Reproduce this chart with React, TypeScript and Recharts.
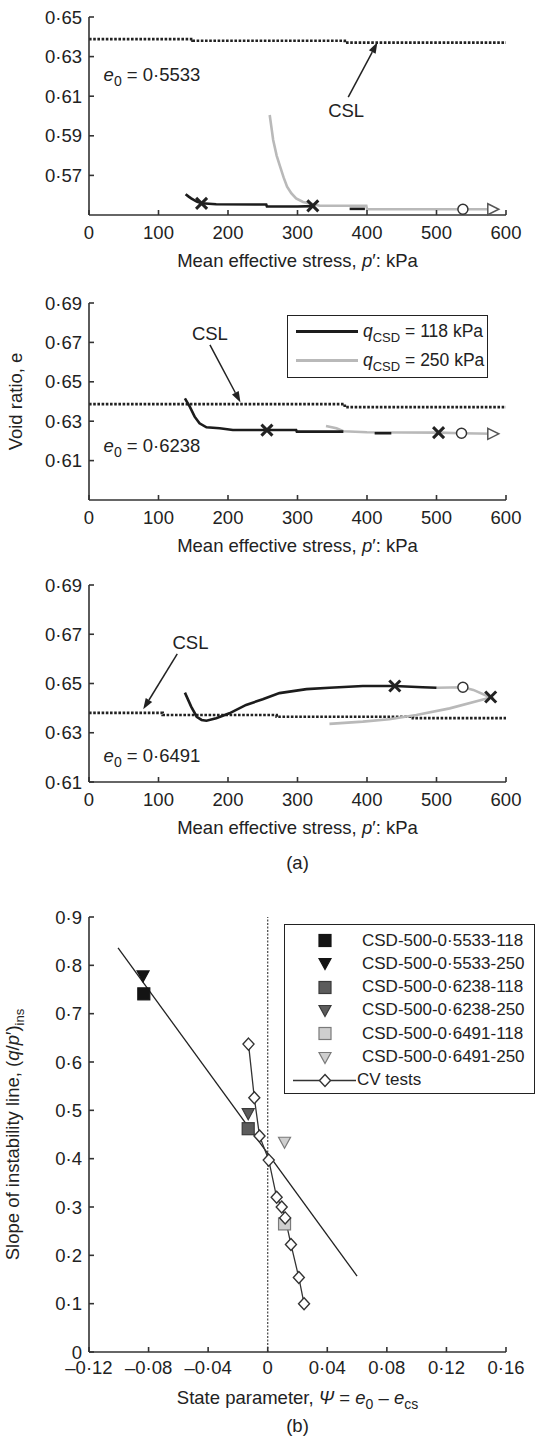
import React from "react";
import {
  ComposedChart,
  Line,
  Scatter,
  XAxis,
  YAxis,
  ReferenceLine,
  ReferenceDot,
} from "recharts";

const FONT = '"Liberation Sans", Arial, Helvetica, sans-serif';
const INK = "#222";
const DARK = "#1c1c1c";
const LIGHT = "#b9b9b9";

type Pt = { p: number; e: number };
const pts = (a: number[][]): Pt[] => a.map(([p, e]) => ({ p, e }));

// ---------- (a) void ratio vs p' ----------
const pTicks = [0, 100, 200, 300, 400, 500, 600];
const eTicksA1 = [0.57, 0.59, 0.61, 0.63, 0.65];
const eTicksA2 = [0.61, 0.63, 0.65, 0.67, 0.69];
const eTicksA3 = [0.61, 0.63, 0.65, 0.67, 0.69];

// e0 = 0.5533   [p', e]
const csl1 = pts([[0, 0.6388], [149, 0.6388], [149, 0.638], [368, 0.638], [368, 0.6371], [600, 0.6371]]);
const black1 = pts([[139, 0.5605], [143, 0.5594], [147, 0.5584], [155, 0.5568], [162, 0.5559], [183, 0.5554], [255, 0.5553], [256, 0.5543], [300, 0.5543], [322, 0.5545]]);
const blackStub1 = pts([[375, 0.5531], [397, 0.5531]]);
const gray1 = pts([[260, 0.6005], [263, 0.593], [265, 0.5879], [270, 0.58], [275, 0.5744], [280, 0.569], [285, 0.5643], [291, 0.561], [298, 0.5584], [308, 0.5566], [317, 0.5559], [332, 0.5547], [399, 0.5547], [400, 0.5529], [581, 0.5529]]);
const cross1 = pts([[162, 0.5559], [322, 0.5546]]);
const circle1 = pts([[538, 0.5529]]);
const tri1 = pts([[581, 0.5529]]);

// e0 = 0.6238
const csl2 = pts([[0, 0.6387], [368, 0.6387], [368, 0.6371], [600, 0.6371]]);
const black2 = pts([[138, 0.6416], [145, 0.6374], [152, 0.6323], [159, 0.6289], [169, 0.6269], [188, 0.6264], [207, 0.6255], [256, 0.6255], [298, 0.6255], [299, 0.6247], [366, 0.6247]]);
const blackStub2 = pts([[411, 0.6239], [435, 0.6239]]);
const gray2 = pts([[341, 0.6276], [356, 0.6264], [366, 0.6249], [400, 0.6244], [503, 0.6242], [536, 0.6239], [581, 0.6236]]);
const cross2 = pts([[256, 0.6255], [503, 0.6242]]);
const circle2 = pts([[536, 0.6239]]);
const tri2 = pts([[581, 0.6236]]);

// e0 = 0.6491
const csl3 = pts([[0, 0.6381], [106, 0.6381], [106, 0.6372], [270, 0.6372], [270, 0.6365], [466, 0.6365], [466, 0.6359], [600, 0.6359]]);
const black3 = pts([[138, 0.6463], [147, 0.6406], [155, 0.6365], [162, 0.6352], [169, 0.6349], [183, 0.6359], [202, 0.6379], [226, 0.6413], [250, 0.6436], [274, 0.6461], [313, 0.6477], [346, 0.6483], [394, 0.649], [440, 0.649], [480, 0.6485], [500, 0.6483]]);
const gray3 = pts([[346, 0.6336], [394, 0.6345], [432, 0.6355], [471, 0.6372], [519, 0.6399], [578, 0.6443], [553, 0.6474], [538, 0.6485], [500, 0.6483]]);
const cross3 = pts([[440, 0.649], [578, 0.6445]]);
const circle3 = pts([[538, 0.6485]]);
const tri3: Pt[] = [];

// ---------- (b) slope of instability line vs state parameter ----------
const psiTicks = [-0.12, -0.08, -0.04, 0, 0.04, 0.08, 0.12, 0.16];
const slopeTicks = [0, 0.1, 0.2, 0.3, 0.4, 0.5, 0.6, 0.7, 0.8, 0.9];
const fitPsi = [-0.1005, 0.06];
const fitSlope = [0.836, 0.157];
const cvPsi = [-0.0129, -0.009, -0.0055, 0.0007, 0.006, 0.0094, 0.0117, 0.0156, 0.0209, 0.0244];
const cvSlope = [0.637, 0.526, 0.447, 0.397, 0.32, 0.3, 0.2775, 0.2225, 0.154, 0.1];
const testNames = [
  "CSD-500-0·5533-118",
  "CSD-500-0·5533-250",
  "CSD-500-0·6238-118",
  "CSD-500-0·6238-250",
  "CSD-500-0·6491-118",
  "CSD-500-0·6491-250",
];
const testPsi = [-0.0832, -0.0837, -0.0131, -0.0131, 0.0113, 0.0113];
const testSlope = [0.741, 0.778, 0.462, 0.493, 0.265, 0.434];

const testStyle = [
  { kind: "sq", fill: "#141414", stroke: "#141414" },
  { kind: "tri", fill: "#141414", stroke: "#141414" },
  { kind: "sq", fill: "#5c5c5c", stroke: "#3a3a3a" },
  { kind: "tri", fill: "#5c5c5c", stroke: "#3a3a3a" },
  { kind: "sq", fill: "#cfcfcf", stroke: "#7a7a7a" },
  { kind: "tri", fill: "#cfcfcf", stroke: "#7a7a7a" },
];

const fitData = fitPsi.map((x, i) => ({ x, y: fitSlope[i] }));
const cvData = cvPsi.map((x, i) => ({ x, y: cvSlope[i] }));

// ---------- formatting ----------
const fmtE = (v: number) => v.toFixed(2).replace(".", "·");
const fmtPsi = (v: number) => {
  if (Math.abs(v) < 1e-9) return "0";
  const s = Math.abs(v).toFixed(2).replace(".", "·");
  return v < 0 ? "–" + s : s;
};
const fmtSlope = (v: number) => (Math.abs(v) < 1e-9 ? "0" : v.toFixed(1).replace(".", "·"));

const tickFont = { fontSize: 18.5, fill: INK, fontFamily: FONT };
const axisLine = { stroke: "#333", strokeWidth: 1.6 };

// ---------- marker shapes ----------
const Cross = (pr: any) => {
  const { cx, cy } = pr;
  const d = 5.5;
  return (
    <g stroke={INK} strokeWidth={3}>
      <line x1={cx - d} y1={cy - d} x2={cx + d} y2={cy + d} />
      <line x1={cx - d} y1={cy + d} x2={cx + d} y2={cy - d} />
    </g>
  );
};
const OpenCircle = (pr: any) => (
  <circle cx={pr.cx} cy={pr.cy} r={5} fill="#fff" stroke="#333" strokeWidth={1.5} />
);
const OpenTriRight = (pr: any) => {
  const { cx, cy } = pr;
  return (
    <polygon
      points={`${cx - 5},${cy - 5.5} ${cx + 6},${cy} ${cx - 5},${cy + 5.5}`}
      fill="#fff"
      stroke="#555"
      strokeWidth={1.5}
    />
  );
};
const Diamond = (pr: any) => {
  const { cx, cy } = pr;
  return (
    <polygon
      points={`${cx},${cy - 6} ${cx + 5.5},${cy} ${cx},${cy + 6} ${cx - 5.5},${cy}`}
      fill="#fff"
      stroke="#333"
      strokeWidth={1.4}
    />
  );
};
const testShape = (i: number) => (pr: any) => {
  const { cx, cy } = pr;
  const st = testStyle[i];
  if (st.kind === "sq") {
    return <rect x={cx - 6} y={cy - 6} width={12} height={12} fill={st.fill} stroke={st.stroke} strokeWidth={1.2} />;
  }
  return (
    <polygon
      points={`${cx - 6},${cy - 5} ${cx + 6},${cy - 5} ${cx},${cy + 6}`}
      fill={st.fill}
      stroke={st.stroke}
      strokeWidth={1.2}
    />
  );
};

const Arrow = (pr: any) => {
  const { x1, y1, x2, y2 } = pr;
  const a = Math.atan2(y2 - y1, x2 - x1);
  const len = 11;
  const half = 3.8;
  const bx = x2 - len * Math.cos(a);
  const by = y2 - len * Math.sin(a);
  const nx = -Math.sin(a) * half;
  const ny = Math.cos(a) * half;
  return (
    <g>
      <line x1={x1} y1={y1} x2={bx} y2={by} stroke={INK} strokeWidth={1.5} />
      <polygon points={`${x2},${y2} ${bx + nx},${by + ny} ${bx - nx},${by - ny}`} fill={INK} />
    </g>
  );
};

const e0Text = (value: string) => (pr: any) => (
  <text x={pr.cx} y={pr.cy} fontSize={18.5} fill={INK} fontFamily={FONT}>
    <tspan fontStyle="italic">e</tspan>
    <tspan dy={5} fontSize={14}>0</tspan>
    <tspan dy={-5}>{" = " + value}</tspan>
  </text>
);
const cslText = (pr: any) => (
  <text x={pr.cx} y={pr.cy} fontSize={18.5} fill={INK} fontFamily={FONT} textAnchor="middle">
    CSL
  </text>
);

const pTitle = (caption?: string) => (pr: any) => {
  const vb = pr.viewBox || { x: 89, y: 0, width: 417, height: 70 };
  const cx = vb.x + vb.width / 2;
  return (
    <g fontFamily={FONT} fontSize={18.5} fill={INK}>
      <text x={cx} y={vb.y + 52} textAnchor="middle">
        Mean effective stress, <tspan fontStyle="italic">p</tspan>′: kPa
      </text>
      {caption ? (
        <text x={cx} y={vb.y + 87} textAnchor="middle">
          {caption}
        </text>
      ) : null}
    </g>
  );
};

const voidTitle = (pr: any) => {
  const vb = pr.viewBox || { x: 9, y: 18, width: 80, height: 197 };
  const x = vb.x + 13;
  const y = vb.y + vb.height / 2;
  return (
    <text x={x} y={y} transform={`rotate(-90 ${x} ${y})`} textAnchor="middle" fontFamily={FONT} fontSize={18.5} fill={INK}>
      Void ratio, e
    </text>
  );
};

const psiTitle = (pr: any) => {
  const vb = pr.viewBox || { x: 89, y: 475, width: 417, height: 89 };
  const cx = vb.x + vb.width / 2;
  return (
    <g fontFamily={FONT} fontSize={18.5} fill={INK}>
      <text x={cx} y={vb.y + 52} textAnchor="middle">
        State parameter,  <tspan fontStyle="italic">Ψ</tspan> = <tspan fontStyle="italic">e</tspan>
        <tspan dy={5} fontSize={14}>0</tspan>
        <tspan dy={-5}> – </tspan>
        <tspan fontStyle="italic">e</tspan>
        <tspan dy={5} fontSize={14}>cs</tspan>
      </text>
      <text x={cx} y={vb.y + 80} textAnchor="middle">
        (b)
      </text>
    </g>
  );
};

const slopeTitle = (pr: any) => {
  const vb = pr.viewBox || { x: 9, y: 40, width: 80, height: 435 };
  const x = vb.x + 10;
  const y = vb.y + vb.height / 2;
  return (
    <text x={x} y={y} transform={`rotate(-90 ${x} ${y})`} textAnchor="middle" fontFamily={FONT} fontSize={18.5} fill={INK}>
      Slope of instability line, (<tspan fontStyle="italic">q</tspan>/<tspan fontStyle="italic">p</tspan>′)
      <tspan dy={5} fontSize={13}>ins</tspan>
    </text>
  );
};

// ---------- panel (a) ----------
type PanelProps = {
  top: number;
  height: number;
  marginTop: number;
  axisHeight: number;
  eDomain: [number, number];
  eTicks: number[];
  csl: Pt[];
  black: Pt[];
  blackStub: Pt[];
  gray: Pt[];
  crosses: Pt[];
  circles: Pt[];
  triangles: Pt[];
  e0: string;
  e0At: Pt;
  cslAt: Pt;
  arrowFrom: Pt;
  arrowTo: Pt;
  yTitle?: boolean;
  caption?: string;
};

function EPanel(props: PanelProps) {
  return (
    <div style={{ position: "absolute", left: 0, top: props.top }}>
      <ComposedChart
        width={536}
        height={props.height}
        margin={{ top: props.marginTop, right: 30, bottom: 0, left: 9 }}
      >
        <XAxis
          type="number"
          dataKey="p"
          domain={[0, 600]}
          ticks={pTicks}
          height={props.axisHeight}
          tick={tickFont}
          tickSize={-5}
          tickMargin={16}
          axisLine={axisLine}
          tickLine={axisLine}
          interval={0}
          label={{ content: pTitle(props.caption) }}
        />
        <YAxis
          type="number"
          dataKey="e"
          domain={props.eDomain}
          ticks={props.eTicks}
          width={80}
          tick={tickFont}
          tickFormatter={fmtE}
          tickSize={-5}
          tickMargin={12}
          axisLine={axisLine}
          tickLine={axisLine}
          interval={0}
          label={props.yTitle ? { content: voidTitle } : undefined}
        />
        <Line data={props.csl} dataKey="e" stroke={INK} strokeWidth={2.7} strokeDasharray="2.6 1.6" dot={false} isAnimationActive={false} />
        <Line data={props.gray} dataKey="e" stroke={LIGHT} strokeWidth={2.6} dot={false} isAnimationActive={false} />
        <Line data={props.black} dataKey="e" stroke={DARK} strokeWidth={2.6} dot={false} isAnimationActive={false} />
        <Line data={props.blackStub} dataKey="e" stroke={DARK} strokeWidth={2.6} dot={false} isAnimationActive={false} />
        <Scatter data={props.circles} shape={OpenCircle} isAnimationActive={false} />
        <Scatter data={props.triangles} shape={OpenTriRight} isAnimationActive={false} />
        <Scatter data={props.crosses} shape={Cross} isAnimationActive={false} />
        <ReferenceLine
          segment={[
            { x: props.arrowFrom.p, y: props.arrowFrom.e },
            { x: props.arrowTo.p, y: props.arrowTo.e },
          ]}
          shape={Arrow}
        />
        <ReferenceDot x={props.cslAt.p} y={props.cslAt.e} r={0} shape={cslText} />
        <ReferenceDot x={props.e0At.p} y={props.e0At.e} r={0} shape={e0Text(props.e0)} />
      </ComposedChart>
    </div>
  );
}

function QLegend() {
  const row = (color: string, value: string, top: number) => (
    <div style={{ position: "absolute", left: 8, top, display: "flex", alignItems: "center", height: 22 }}>
      <div style={{ width: 62, height: 3, background: color }} />
      <span style={{ marginLeft: 5, fontSize: 17.5 }}>
        <i>q</i>
        <span style={{ fontSize: 13, position: "relative", top: 5 }}>CSD</span>
        {" = " + value}
      </span>
    </div>
  );
  return (
    <div
      style={{
        position: "absolute",
        left: 287,
        top: 315,
        width: 199,
        height: 61,
        border: "1.5px solid #222",
        background: "#fff",
        fontFamily: FONT,
        color: INK,
      }}
    >
      {row(DARK, "118 kPa", 4)}
      {row(LIGHT, "250 kPa", 33)}
    </div>
  );
}

function TestLegend() {
  return (
    <div
      style={{
        position: "absolute",
        left: 284,
        top: 924,
        width: 249,
        height: 168,
        border: "1.5px solid #222",
        background: "#fff",
        fontFamily: FONT,
        color: INK,
        fontSize: 17,
      }}
    >
      {testNames.map((name, i) => (
        <div key={name} style={{ position: "absolute", left: 0, top: 4 + i * 23.3, height: 23, display: "flex", alignItems: "center" }}>
          <svg width={77} height={23}>{testShape(i)({ cx: 40, cy: 11.5 })}</svg>
          <span>{name}</span>
        </div>
      ))}
      <div style={{ position: "absolute", left: 0, top: 4 + 6 * 23.3, height: 23, display: "flex", alignItems: "center" }}>
        <svg width={72} height={23}>
          <line x1={8} y1={11.5} x2={71} y2={11.5} stroke="#333" strokeWidth={1.4} />
          <Diamond cx={40} cy={11.5} />
        </svg>
        <span>CV tests</span>
      </div>
    </div>
  );
}

function PsiPanel() {
  return (
    <div style={{ position: "absolute", left: 0, top: 877 }}>
      <ComposedChart width={536} height={564} margin={{ top: 40, right: 30, bottom: 0, left: 9 }}>
        <XAxis
          type="number"
          dataKey="x"
          domain={[-0.12, 0.16]}
          ticks={psiTicks}
          tickFormatter={fmtPsi}
          height={89}
          tick={tickFont}
          tickSize={-5}
          tickMargin={14}
          axisLine={axisLine}
          tickLine={axisLine}
          interval={0}
          label={{ content: psiTitle }}
        />
        <YAxis
          type="number"
          dataKey="y"
          domain={[0, 0.9]}
          ticks={slopeTicks}
          tickFormatter={fmtSlope}
          width={80}
          tick={tickFont}
          tickSize={-5}
          tickMargin={12}
          axisLine={axisLine}
          tickLine={axisLine}
          interval={0}
          label={{ content: slopeTitle }}
        />
        <ReferenceLine x={0} stroke="#444" strokeWidth={1.2} strokeDasharray="2 1.5" />
        <Line data={fitData} dataKey="y" stroke={INK} strokeWidth={1.3} dot={false} isAnimationActive={false} />
        {testNames.map((name, i) => (
          <Scatter
            key={name}
            name={name}
            data={[{ x: testPsi[i], y: testSlope[i] }]}
            shape={testShape(i)}
            isAnimationActive={false}
          />
        ))}
        <Line data={cvData} dataKey="y" stroke="#333" strokeWidth={1.3} dot={<Diamond />} isAnimationActive={false} />
      </ComposedChart>
    </div>
  );
}

export default function App() {
  return (
    <div
      style={{
        position: "absolute",
        left: 0,
        top: 0,
        width: 536,
        height: 1441,
        background: "#fff",
        fontFamily: FONT,
      }}
    >
      <EPanel
        top={0}
        height={285}
        marginTop={17}
        axisHeight={70}
        eDomain={[0.55, 0.65]}
        eTicks={eTicksA1}
        csl={csl1}
        black={black1}
        blackStub={blackStub1}
        gray={gray1}
        crosses={cross1}
        circles={circle1}
        triangles={tri1}
        e0="0·5533"
        e0At={{ p: 21, e: 0.6177 }}
        cslAt={{ p: 370, e: 0.5996 }}
        arrowFrom={{ p: 373, e: 0.6095 }}
        arrowTo={{ p: 415, e: 0.6372 }}
      />
      <EPanel
        top={285}
        height={285}
        marginTop={18}
        axisHeight={70}
        eDomain={[0.59, 0.69]}
        eTicks={eTicksA2}
        csl={csl2}
        black={black2}
        blackStub={blackStub2}
        gray={gray2}
        crosses={cross2}
        circles={circle2}
        triangles={tri2}
        e0="0·6238"
        e0At={{ p: 21, e: 0.6145 }}
        cslAt={{ p: 174, e: 0.6712 }}
        arrowFrom={{ p: 174, e: 0.6687 }}
        arrowTo={{ p: 218, e: 0.6395 }}
        yTitle
      />
      <EPanel
        top={570}
        height={307}
        marginTop={15}
        axisHeight={95}
        eDomain={[0.61, 0.69]}
        eTicks={eTicksA3}
        csl={csl3}
        black={black3}
        blackStub={[]}
        gray={gray3}
        crosses={cross3}
        circles={circle3}
        triangles={tri3}
        e0="0·6491"
        e0At={{ p: 21, e: 0.6182 }}
        cslAt={{ p: 146, e: 0.664 }}
        arrowFrom={{ p: 127, e: 0.662 }}
        arrowTo={{ p: 78, e: 0.6395 }}
        caption="(a)"
      />
      <QLegend />
      <PsiPanel />
      <TestLegend />
    </div>
  );
}
